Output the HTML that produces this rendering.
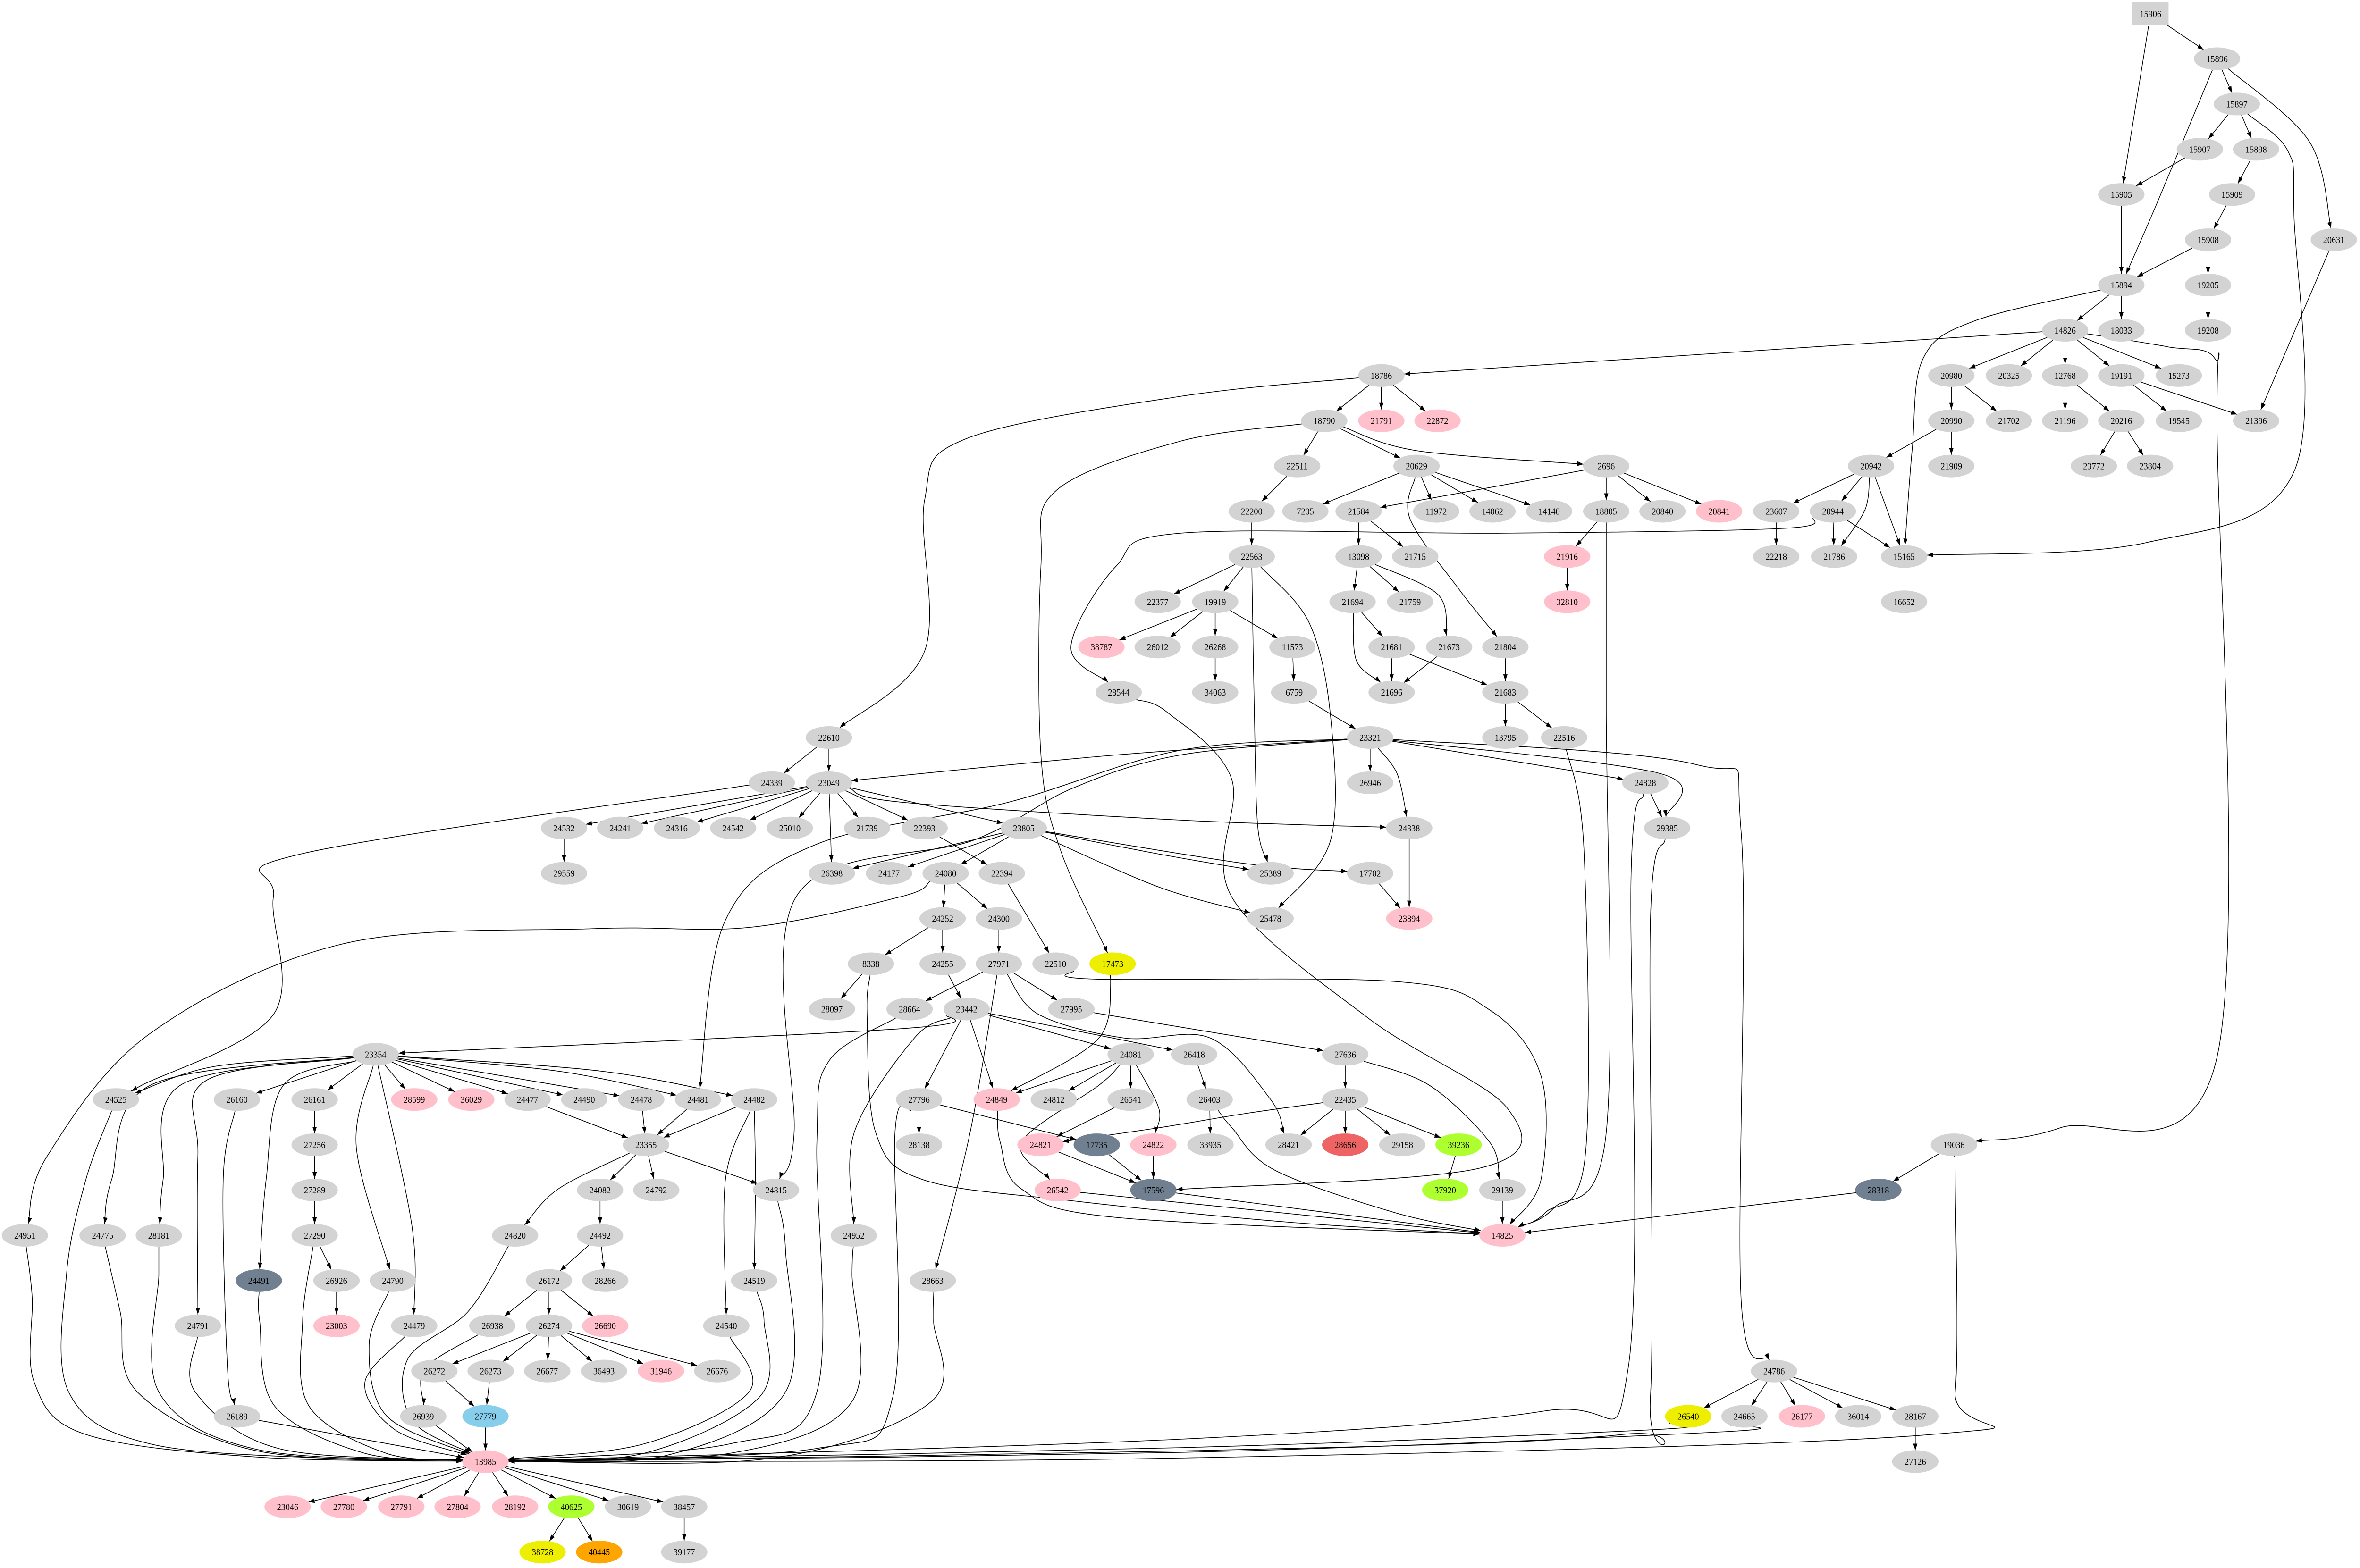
<!DOCTYPE html>
<html><head><meta charset="utf-8"><style>
html,body{margin:0;padding:0;background:#fff;overflow:hidden;width:100%;height:100%;}
svg{display:block;width:100vw;height:100vh;}
ellipse,rect{fill:#d3d3d3;stroke:none;}
.p{fill:#ffc0cb}.s{fill:#708090}.g{fill:#adff2f}.y{fill:#eeee00}.o{fill:#ffa500}.b{fill:#87ceeb}.r{fill:#ee6363}
text{font-family:"Liberation Serif",serif;font-size:20px;text-anchor:middle;fill:#000;}
#E path{fill:none;stroke:#000;stroke-width:1.6;}
</style></head><body>
<svg id="S" xmlns="http://www.w3.org/2000/svg" viewBox="0 0 5498 3323" preserveAspectRatio="none">
<defs><marker id="a" markerUnits="userSpaceOnUse" markerWidth="16" markerHeight="12" refX="14" refY="5" orient="auto"><path d="M0,0 L14,5 L0,10 z" fill="#000"/></marker></defs>
<g id="E"></g>
<g id="N">
<rect id="n15906" x="4968" y="5" width="84" height="49"/><text x="5010" y="36">15906</text>
<ellipse id="n15896" cx="5165" cy="124.5" rx="54" ry="24"/><text x="5165" y="131.5">15896</text>
<ellipse id="n15897" cx="5211" cy="220.4" rx="54" ry="24"/><text x="5211" y="227.4">15897</text>
<ellipse id="n15907" cx="5125" cy="316.3" rx="54" ry="24"/><text x="5125" y="323.3">15907</text>
<ellipse id="n15898" cx="5256" cy="316.3" rx="54" ry="24"/><text x="5256" y="323.3">15898</text>
<ellipse id="n15905" cx="4942" cy="412.2" rx="54" ry="24"/><text x="4942" y="419.2">15905</text>
<ellipse id="n15909" cx="5200" cy="412.2" rx="54" ry="24"/><text x="5200" y="419.2">15909</text>
<ellipse id="n15908" cx="5144" cy="508.1" rx="54" ry="24"/><text x="5144" y="515.1">15908</text>
<ellipse id="n20631" cx="5437" cy="508.1" rx="54" ry="24"/><text x="5437" y="515.1">20631</text>
<ellipse id="n15894" cx="4942" cy="604" rx="54" ry="24"/><text x="4942" y="611">15894</text>
<ellipse id="n19205" cx="5144" cy="604" rx="54" ry="24"/><text x="5144" y="611">19205</text>
<ellipse id="n14826" cx="4811" cy="699.9" rx="54" ry="24"/><text x="4811" y="706.9">14826</text>
<ellipse id="n18033" cx="4942" cy="699.9" rx="54" ry="24"/><text x="4942" y="706.9">18033</text>
<ellipse id="n19208" cx="5144" cy="699.9" rx="54" ry="24"/><text x="5144" y="706.9">19208</text>
<ellipse id="n18786" cx="3218" cy="795.8" rx="54" ry="24"/><text x="3218" y="802.8">18786</text>
<ellipse id="n20980" cx="4546" cy="795.8" rx="54" ry="24"/><text x="4546" y="802.8">20980</text>
<ellipse id="n20325" cx="4680" cy="795.8" rx="54" ry="24"/><text x="4680" y="802.8">20325</text>
<ellipse id="n12768" cx="4811" cy="795.8" rx="54" ry="24"/><text x="4811" y="802.8">12768</text>
<ellipse id="n19191" cx="4942" cy="795.8" rx="54" ry="24"/><text x="4942" y="802.8">19191</text>
<ellipse id="n15273" cx="5076" cy="795.8" rx="54" ry="24"/><text x="5076" y="802.8">15273</text>
<ellipse id="n18790" cx="3085" cy="891.7" rx="54" ry="24"/><text x="3085" y="898.7">18790</text>
<ellipse id="n21791" class="p" cx="3218" cy="891.7" rx="54" ry="24"/><text x="3218" y="898.7">21791</text>
<ellipse id="n22872" class="p" cx="3349" cy="891.7" rx="54" ry="24"/><text x="3349" y="898.7">22872</text>
<ellipse id="n20990" cx="4546" cy="891.7" rx="54" ry="24"/><text x="4546" y="898.7">20990</text>
<ellipse id="n21702" cx="4680" cy="891.7" rx="54" ry="24"/><text x="4680" y="898.7">21702</text>
<ellipse id="n21196" cx="4811" cy="891.7" rx="54" ry="24"/><text x="4811" y="898.7">21196</text>
<ellipse id="n20216" cx="4942" cy="891.7" rx="54" ry="24"/><text x="4942" y="898.7">20216</text>
<ellipse id="n19545" cx="5076" cy="891.7" rx="54" ry="24"/><text x="5076" y="898.7">19545</text>
<ellipse id="n21396" cx="5256" cy="891.7" rx="54" ry="24"/><text x="5256" y="898.7">21396</text>
<ellipse id="n22511" cx="3022" cy="987.6" rx="54" ry="24"/><text x="3022" y="994.6">22511</text>
<ellipse id="n20629" cx="3300" cy="987.6" rx="54" ry="24"/><text x="3300" y="994.6">20629</text>
<ellipse id="n2696" cx="3742" cy="987.6" rx="54" ry="24"/><text x="3742" y="994.6">2696</text>
<ellipse id="n20942" cx="4359" cy="987.6" rx="54" ry="24"/><text x="4359" y="994.6">20942</text>
<ellipse id="n21909" cx="4546" cy="987.6" rx="54" ry="24"/><text x="4546" y="994.6">21909</text>
<ellipse id="n23772" cx="4878" cy="987.6" rx="54" ry="24"/><text x="4878" y="994.6">23772</text>
<ellipse id="n23804" cx="5009" cy="987.6" rx="54" ry="24"/><text x="5009" y="994.6">23804</text>
<ellipse id="n22200" cx="2916" cy="1083.5" rx="54" ry="24"/><text x="2916" y="1090.5">22200</text>
<ellipse id="n7205" cx="3041" cy="1083.5" rx="54" ry="24"/><text x="3041" y="1090.5">7205</text>
<ellipse id="n21584" cx="3165" cy="1083.5" rx="54" ry="24"/><text x="3165" y="1090.5">21584</text>
<ellipse id="n11972" cx="3346" cy="1083.5" rx="54" ry="24"/><text x="3346" y="1090.5">11972</text>
<ellipse id="n14062" cx="3477" cy="1083.5" rx="54" ry="24"/><text x="3477" y="1090.5">14062</text>
<ellipse id="n14140" cx="3609" cy="1083.5" rx="54" ry="24"/><text x="3609" y="1090.5">14140</text>
<ellipse id="n18805" cx="3742" cy="1083.5" rx="54" ry="24"/><text x="3742" y="1090.5">18805</text>
<ellipse id="n20840" cx="3873" cy="1083.5" rx="54" ry="24"/><text x="3873" y="1090.5">20840</text>
<ellipse id="n20841" class="p" cx="4005" cy="1083.5" rx="54" ry="24"/><text x="4005" y="1090.5">20841</text>
<ellipse id="n23607" cx="4138" cy="1083.5" rx="54" ry="24"/><text x="4138" y="1090.5">23607</text>
<ellipse id="n20944" cx="4270" cy="1083.5" rx="54" ry="24"/><text x="4270" y="1090.5">20944</text>
<ellipse id="n22563" cx="2916" cy="1179.4" rx="54" ry="24"/><text x="2916" y="1186.4">22563</text>
<ellipse id="n13098" cx="3165" cy="1179.4" rx="54" ry="24"/><text x="3165" y="1186.4">13098</text>
<ellipse id="n21715" cx="3297" cy="1179.4" rx="54" ry="24"/><text x="3297" y="1186.4">21715</text>
<ellipse id="n21916" class="p" cx="3651" cy="1179.4" rx="54" ry="24"/><text x="3651" y="1186.4">21916</text>
<ellipse id="n22218" cx="4138" cy="1179.4" rx="54" ry="24"/><text x="4138" y="1186.4">22218</text>
<ellipse id="n21786" cx="4273" cy="1179.4" rx="54" ry="24"/><text x="4273" y="1186.4">21786</text>
<ellipse id="n15165" cx="4436" cy="1179.4" rx="54" ry="24"/><text x="4436" y="1186.4">15165</text>
<ellipse id="n22377" cx="2697" cy="1275.3" rx="54" ry="24"/><text x="2697" y="1282.3">22377</text>
<ellipse id="n19919" cx="2831" cy="1275.3" rx="54" ry="24"/><text x="2831" y="1282.3">19919</text>
<ellipse id="n21694" cx="3151" cy="1275.3" rx="54" ry="24"/><text x="3151" y="1282.3">21694</text>
<ellipse id="n21759" cx="3285" cy="1275.3" rx="54" ry="24"/><text x="3285" y="1282.3">21759</text>
<ellipse id="n32810" class="p" cx="3651" cy="1275.3" rx="54" ry="24"/><text x="3651" y="1282.3">32810</text>
<ellipse id="n16652" cx="4436" cy="1275.3" rx="54" ry="24"/><text x="4436" y="1282.3">16652</text>
<ellipse id="n38787" class="p" cx="2566" cy="1371.2" rx="54" ry="24"/><text x="2566" y="1378.2">38787</text>
<ellipse id="n26012" cx="2697" cy="1371.2" rx="54" ry="24"/><text x="2697" y="1378.2">26012</text>
<ellipse id="n26268" cx="2831" cy="1371.2" rx="54" ry="24"/><text x="2831" y="1378.2">26268</text>
<ellipse id="n11573" cx="3011" cy="1371.2" rx="54" ry="24"/><text x="3011" y="1378.2">11573</text>
<ellipse id="n21681" cx="3242" cy="1371.2" rx="54" ry="24"/><text x="3242" y="1378.2">21681</text>
<ellipse id="n21673" cx="3376" cy="1371.2" rx="54" ry="24"/><text x="3376" y="1378.2">21673</text>
<ellipse id="n21804" cx="3507" cy="1371.2" rx="54" ry="24"/><text x="3507" y="1378.2">21804</text>
<ellipse id="n28544" cx="2606" cy="1467.1" rx="54" ry="24"/><text x="2606" y="1474.1">28544</text>
<ellipse id="n34063" cx="2831" cy="1467.1" rx="54" ry="24"/><text x="2831" y="1474.1">34063</text>
<ellipse id="n6759" cx="3015" cy="1467.1" rx="54" ry="24"/><text x="3015" y="1474.1">6759</text>
<ellipse id="n21696" cx="3242" cy="1467.1" rx="54" ry="24"/><text x="3242" y="1474.1">21696</text>
<ellipse id="n21683" cx="3507" cy="1467.1" rx="54" ry="24"/><text x="3507" y="1474.1">21683</text>
<ellipse id="n22610" cx="1931" cy="1563" rx="54" ry="24"/><text x="1931" y="1570">22610</text>
<ellipse id="n23321" cx="3192" cy="1563" rx="54" ry="24"/><text x="3192" y="1570">23321</text>
<ellipse id="n13795" cx="3507" cy="1563" rx="54" ry="24"/><text x="3507" y="1570">13795</text>
<ellipse id="n22516" cx="3644" cy="1563" rx="54" ry="24"/><text x="3644" y="1570">22516</text>
<ellipse id="n24339" cx="1798" cy="1658.9" rx="54" ry="24"/><text x="1798" y="1665.9">24339</text>
<ellipse id="n23049" cx="1931" cy="1658.9" rx="54" ry="24"/><text x="1931" y="1665.9">23049</text>
<ellipse id="n26946" cx="3192" cy="1658.9" rx="54" ry="24"/><text x="3192" y="1665.9">26946</text>
<ellipse id="n24828" cx="3833" cy="1658.9" rx="54" ry="24"/><text x="3833" y="1665.9">24828</text>
<ellipse id="n24532" cx="1314" cy="1754.8" rx="54" ry="24"/><text x="1314" y="1761.8">24532</text>
<ellipse id="n24241" cx="1445" cy="1754.8" rx="54" ry="24"/><text x="1445" y="1761.8">24241</text>
<ellipse id="n24316" cx="1577" cy="1754.8" rx="54" ry="24"/><text x="1577" y="1761.8">24316</text>
<ellipse id="n24542" cx="1708" cy="1754.8" rx="54" ry="24"/><text x="1708" y="1761.8">24542</text>
<ellipse id="n25010" cx="1840" cy="1754.8" rx="54" ry="24"/><text x="1840" y="1761.8">25010</text>
<ellipse id="n21739" cx="2020" cy="1754.8" rx="54" ry="24"/><text x="2020" y="1761.8">21739</text>
<ellipse id="n22393" cx="2154" cy="1754.8" rx="54" ry="24"/><text x="2154" y="1761.8">22393</text>
<ellipse id="n23805" cx="2385" cy="1754.8" rx="54" ry="24"/><text x="2385" y="1761.8">23805</text>
<ellipse id="n24338" cx="3283" cy="1754.8" rx="54" ry="24"/><text x="3283" y="1761.8">24338</text>
<ellipse id="n29385" cx="3884" cy="1754.8" rx="54" ry="24"/><text x="3884" y="1761.8">29385</text>
<ellipse id="n29559" cx="1314" cy="1850.7" rx="54" ry="24"/><text x="1314" y="1857.7">29559</text>
<ellipse id="n26398" cx="1938" cy="1850.7" rx="54" ry="24"/><text x="1938" y="1857.7">26398</text>
<ellipse id="n24177" cx="2071" cy="1850.7" rx="54" ry="24"/><text x="2071" y="1857.7">24177</text>
<ellipse id="n24080" cx="2203" cy="1850.7" rx="54" ry="24"/><text x="2203" y="1857.7">24080</text>
<ellipse id="n22394" cx="2334" cy="1850.7" rx="54" ry="24"/><text x="2334" y="1857.7">22394</text>
<ellipse id="n25389" cx="2960" cy="1850.7" rx="54" ry="24"/><text x="2960" y="1857.7">25389</text>
<ellipse id="n17702" cx="3192" cy="1850.7" rx="54" ry="24"/><text x="3192" y="1857.7">17702</text>
<ellipse id="n24252" cx="2196" cy="1946.6" rx="54" ry="24"/><text x="2196" y="1953.6">24252</text>
<ellipse id="n24300" cx="2327" cy="1946.6" rx="54" ry="24"/><text x="2327" y="1953.6">24300</text>
<ellipse id="n25478" cx="2960" cy="1946.6" rx="54" ry="24"/><text x="2960" y="1953.6">25478</text>
<ellipse id="n23894" class="p" cx="3283" cy="1946.6" rx="54" ry="24"/><text x="3283" y="1953.6">23894</text>
<ellipse id="n8338" cx="2029" cy="2042.5" rx="54" ry="24"/><text x="2029" y="2049.5">8338</text>
<ellipse id="n24255" cx="2196" cy="2042.5" rx="54" ry="24"/><text x="2196" y="2049.5">24255</text>
<ellipse id="n27971" cx="2327" cy="2042.5" rx="54" ry="24"/><text x="2327" y="2049.5">27971</text>
<ellipse id="n22510" cx="2459" cy="2042.5" rx="54" ry="24"/><text x="2459" y="2049.5">22510</text>
<ellipse id="n17473" class="y" cx="2592" cy="2042.5" rx="54" ry="24"/><text x="2592" y="2049.5">17473</text>
<ellipse id="n28097" cx="1938" cy="2138.4" rx="54" ry="24"/><text x="1938" y="2145.4">28097</text>
<ellipse id="n28664" cx="2119" cy="2138.4" rx="54" ry="24"/><text x="2119" y="2145.4">28664</text>
<ellipse id="n23442" cx="2252" cy="2138.4" rx="54" ry="24"/><text x="2252" y="2145.4">23442</text>
<ellipse id="n27995" cx="2496" cy="2138.4" rx="54" ry="24"/><text x="2496" y="2145.4">27995</text>
<ellipse id="n23354" cx="875" cy="2234.3" rx="54" ry="24"/><text x="875" y="2241.3">23354</text>
<ellipse id="n24081" cx="2634" cy="2234.3" rx="54" ry="24"/><text x="2634" y="2241.3">24081</text>
<ellipse id="n26418" cx="2782" cy="2234.3" rx="54" ry="24"/><text x="2782" y="2241.3">26418</text>
<ellipse id="n27636" cx="3134" cy="2234.3" rx="54" ry="24"/><text x="3134" y="2241.3">27636</text>
<ellipse id="n24525" cx="270" cy="2330.2" rx="54" ry="24"/><text x="270" y="2337.2">24525</text>
<ellipse id="n26160" cx="552" cy="2330.2" rx="54" ry="24"/><text x="552" y="2337.2">26160</text>
<ellipse id="n26161" cx="733" cy="2330.2" rx="54" ry="24"/><text x="733" y="2337.2">26161</text>
<ellipse id="n28599" class="p" cx="965" cy="2330.2" rx="54" ry="24"/><text x="965" y="2337.2">28599</text>
<ellipse id="n36029" class="p" cx="1098" cy="2330.2" rx="54" ry="24"/><text x="1098" y="2337.2">36029</text>
<ellipse id="n24477" cx="1229" cy="2330.2" rx="54" ry="24"/><text x="1229" y="2337.2">24477</text>
<ellipse id="n24490" cx="1361" cy="2330.2" rx="54" ry="24"/><text x="1361" y="2337.2">24490</text>
<ellipse id="n24478" cx="1494" cy="2330.2" rx="54" ry="24"/><text x="1494" y="2337.2">24478</text>
<ellipse id="n24481" cx="1626" cy="2330.2" rx="54" ry="24"/><text x="1626" y="2337.2">24481</text>
<ellipse id="n24482" cx="1757" cy="2330.2" rx="54" ry="24"/><text x="1757" y="2337.2">24482</text>
<ellipse id="n27796" cx="2141" cy="2330.2" rx="54" ry="24"/><text x="2141" y="2337.2">27796</text>
<ellipse id="n24849" class="p" cx="2322" cy="2330.2" rx="54" ry="24"/><text x="2322" y="2337.2">24849</text>
<ellipse id="n24812" cx="2455" cy="2330.2" rx="54" ry="24"/><text x="2455" y="2337.2">24812</text>
<ellipse id="n26541" cx="2634" cy="2330.2" rx="54" ry="24"/><text x="2634" y="2337.2">26541</text>
<ellipse id="n26403" cx="2818" cy="2330.2" rx="54" ry="24"/><text x="2818" y="2337.2">26403</text>
<ellipse id="n22435" cx="3134" cy="2330.2" rx="54" ry="24"/><text x="3134" y="2337.2">22435</text>
<ellipse id="n27256" cx="733" cy="2426.1" rx="54" ry="24"/><text x="733" y="2433.1">27256</text>
<ellipse id="n23355" cx="1505" cy="2426.1" rx="54" ry="24"/><text x="1505" y="2433.1">23355</text>
<ellipse id="n28138" cx="2141" cy="2426.1" rx="54" ry="24"/><text x="2141" y="2433.1">28138</text>
<ellipse id="n24821" class="p" cx="2424" cy="2426.1" rx="54" ry="24"/><text x="2424" y="2433.1">24821</text>
<ellipse id="n17735" class="s" cx="2555" cy="2426.1" rx="54" ry="24"/><text x="2555" y="2433.1">17735</text>
<ellipse id="n24822" class="p" cx="2687" cy="2426.1" rx="54" ry="24"/><text x="2687" y="2433.1">24822</text>
<ellipse id="n33935" cx="2820" cy="2426.1" rx="54" ry="24"/><text x="2820" y="2433.1">33935</text>
<ellipse id="n28421" cx="3002" cy="2426.1" rx="54" ry="24"/><text x="3002" y="2433.1">28421</text>
<ellipse id="n28656" class="r" cx="3134" cy="2426.1" rx="54" ry="24"/><text x="3134" y="2433.1">28656</text>
<ellipse id="n29158" cx="3267" cy="2426.1" rx="54" ry="24"/><text x="3267" y="2433.1">29158</text>
<ellipse id="n39236" class="g" cx="3398" cy="2426.1" rx="54" ry="24"/><text x="3398" y="2433.1">39236</text>
<ellipse id="n19036" cx="4552" cy="2426.1" rx="54" ry="24"/><text x="4552" y="2433.1">19036</text>
<ellipse id="n27289" cx="733" cy="2522" rx="54" ry="24"/><text x="733" y="2529">27289</text>
<ellipse id="n24082" cx="1398" cy="2522" rx="54" ry="24"/><text x="1398" y="2529">24082</text>
<ellipse id="n24792" cx="1529" cy="2522" rx="54" ry="24"/><text x="1529" y="2529">24792</text>
<ellipse id="n24815" cx="1808" cy="2522" rx="54" ry="24"/><text x="1808" y="2529">24815</text>
<ellipse id="n26542" class="p" cx="2464" cy="2522" rx="54" ry="24"/><text x="2464" y="2529">26542</text>
<ellipse id="n17596" class="s" cx="2687" cy="2522" rx="54" ry="24"/><text x="2687" y="2529">17596</text>
<ellipse id="n37920" class="g" cx="3367" cy="2522" rx="54" ry="24"/><text x="3367" y="2529">37920</text>
<ellipse id="n29139" cx="3500" cy="2522" rx="54" ry="24"/><text x="3500" y="2529">29139</text>
<ellipse id="n28318" class="s" cx="4376" cy="2522" rx="54" ry="24"/><text x="4376" y="2529">28318</text>
<ellipse id="n24951" cx="58" cy="2617.9" rx="54" ry="24"/><text x="58" y="2624.9">24951</text>
<ellipse id="n24775" cx="239" cy="2617.9" rx="54" ry="24"/><text x="239" y="2624.9">24775</text>
<ellipse id="n28181" cx="370" cy="2617.9" rx="54" ry="24"/><text x="370" y="2624.9">28181</text>
<ellipse id="n27290" cx="733" cy="2617.9" rx="54" ry="24"/><text x="733" y="2624.9">27290</text>
<ellipse id="n24820" cx="1200" cy="2617.9" rx="54" ry="24"/><text x="1200" y="2624.9">24820</text>
<ellipse id="n24492" cx="1398" cy="2617.9" rx="54" ry="24"/><text x="1398" y="2624.9">24492</text>
<ellipse id="n24952" cx="1989" cy="2617.9" rx="54" ry="24"/><text x="1989" y="2624.9">24952</text>
<ellipse id="n14825" class="p" cx="3500" cy="2617.9" rx="54" ry="24"/><text x="3500" y="2624.9">14825</text>
<ellipse id="n24491" class="s" cx="603" cy="2713.8" rx="54" ry="24"/><text x="603" y="2720.8">24491</text>
<ellipse id="n26926" cx="784" cy="2713.8" rx="54" ry="24"/><text x="784" y="2720.8">26926</text>
<ellipse id="n24790" cx="915" cy="2713.8" rx="54" ry="24"/><text x="915" y="2720.8">24790</text>
<ellipse id="n26172" cx="1279" cy="2713.8" rx="54" ry="24"/><text x="1279" y="2720.8">26172</text>
<ellipse id="n28266" cx="1410" cy="2713.8" rx="54" ry="24"/><text x="1410" y="2720.8">28266</text>
<ellipse id="n24519" cx="1757" cy="2713.8" rx="54" ry="24"/><text x="1757" y="2720.8">24519</text>
<ellipse id="n28663" cx="2173" cy="2713.8" rx="54" ry="24"/><text x="2173" y="2720.8">28663</text>
<ellipse id="n24791" cx="461" cy="2809.7" rx="54" ry="24"/><text x="461" y="2816.7">24791</text>
<ellipse id="n23003" class="p" cx="784" cy="2809.7" rx="54" ry="24"/><text x="784" y="2816.7">23003</text>
<ellipse id="n24479" cx="965" cy="2809.7" rx="54" ry="24"/><text x="965" y="2816.7">24479</text>
<ellipse id="n26938" cx="1147" cy="2809.7" rx="54" ry="24"/><text x="1147" y="2816.7">26938</text>
<ellipse id="n26274" cx="1279" cy="2809.7" rx="54" ry="24"/><text x="1279" y="2816.7">26274</text>
<ellipse id="n26690" class="p" cx="1410" cy="2809.7" rx="54" ry="24"/><text x="1410" y="2816.7">26690</text>
<ellipse id="n24540" cx="1692" cy="2809.7" rx="54" ry="24"/><text x="1692" y="2816.7">24540</text>
<ellipse id="n26272" cx="1012" cy="2905.6" rx="54" ry="24"/><text x="1012" y="2912.6">26272</text>
<ellipse id="n26273" cx="1143" cy="2905.6" rx="54" ry="24"/><text x="1143" y="2912.6">26273</text>
<ellipse id="n26677" cx="1275" cy="2905.6" rx="54" ry="24"/><text x="1275" y="2912.6">26677</text>
<ellipse id="n36493" cx="1407" cy="2905.6" rx="54" ry="24"/><text x="1407" y="2912.6">36493</text>
<ellipse id="n31946" class="p" cx="1540" cy="2905.6" rx="54" ry="24"/><text x="1540" y="2912.6">31946</text>
<ellipse id="n26676" cx="1671" cy="2905.6" rx="54" ry="24"/><text x="1671" y="2912.6">26676</text>
<ellipse id="n24786" cx="4133" cy="2905.6" rx="54" ry="24"/><text x="4133" y="2912.6">24786</text>
<ellipse id="n26189" cx="552" cy="3001.5" rx="54" ry="24"/><text x="552" y="3008.5">26189</text>
<ellipse id="n26939" cx="986" cy="3001.5" rx="54" ry="24"/><text x="986" y="3008.5">26939</text>
<ellipse id="n27779" class="b" cx="1131" cy="3001.5" rx="54" ry="24"/><text x="1131" y="3008.5">27779</text>
<ellipse id="n26540" class="y" cx="3933" cy="3001.5" rx="54" ry="24"/><text x="3933" y="3008.5">26540</text>
<ellipse id="n24665" cx="4064" cy="3001.5" rx="54" ry="24"/><text x="4064" y="3008.5">24665</text>
<ellipse id="n26177" class="p" cx="4198" cy="3001.5" rx="54" ry="24"/><text x="4198" y="3008.5">26177</text>
<ellipse id="n36014" cx="4329" cy="3001.5" rx="54" ry="24"/><text x="4329" y="3008.5">36014</text>
<ellipse id="n28167" cx="4462" cy="3001.5" rx="54" ry="24"/><text x="4462" y="3008.5">28167</text>
<ellipse id="n13985" class="p" cx="1131" cy="3097.4" rx="54" ry="24"/><text x="1131" y="3104.4">13985</text>
<ellipse id="n27126" cx="4462" cy="3097.4" rx="54" ry="24"/><text x="4462" y="3104.4">27126</text>
<ellipse id="n23046" class="p" cx="670" cy="3193.3" rx="54" ry="24"/><text x="670" y="3200.3">23046</text>
<ellipse id="n27780" class="p" cx="801" cy="3193.3" rx="54" ry="24"/><text x="801" y="3200.3">27780</text>
<ellipse id="n27791" class="p" cx="935" cy="3193.3" rx="54" ry="24"/><text x="935" y="3200.3">27791</text>
<ellipse id="n27804" class="p" cx="1066" cy="3193.3" rx="54" ry="24"/><text x="1066" y="3200.3">27804</text>
<ellipse id="n28192" class="p" cx="1200" cy="3193.3" rx="54" ry="24"/><text x="1200" y="3200.3">28192</text>
<ellipse id="n40625" class="g" cx="1331" cy="3193.3" rx="54" ry="24"/><text x="1331" y="3200.3">40625</text>
<ellipse id="n30619" cx="1463" cy="3193.3" rx="54" ry="24"/><text x="1463" y="3200.3">30619</text>
<ellipse id="n38457" cx="1594" cy="3193.3" rx="54" ry="24"/><text x="1594" y="3200.3">38457</text>
<ellipse id="n38728" class="y" cx="1264" cy="3289.2" rx="54" ry="24"/><text x="1264" y="3296.2">38728</text>
<ellipse id="n40445" class="o" cx="1396" cy="3289.2" rx="54" ry="24"/><text x="1396" y="3296.2">40445</text>
<ellipse id="n39177" cx="1594" cy="3289.2" rx="54" ry="24"/><text x="1594" y="3296.2">39177</text>
</g>
</svg>
<script>
(function(){
var E=[
["15906","15896"],["15906","15905"],["15896","15897"],["15896","15894",[[5030,420]]],["15896","20631",[[5380,300]]],
["15897","15907"],["15897","15898"],["15897","15165",[[5330,320],[5344,450],[5344,1000],[5000,1150]]],
["15907","15905"],["15898","15909"],["15909","15908"],["15905","15894"],["15908","15894"],["15908","19205"],["19205","19208"],
["20631","21396"],["15894","14826"],["15894","18033"],["15894","15165",[[4600,680],[4480,760],[4455,950]]],
["14826","18786"],["14826","20980"],["14826","20325"],["14826","12768"],["14826","19191"],["14826","15273"],
["14826","19036",[[5050,735],[5160,760],[5165,900],[5165,2240],[4800,2390]]],
["20980","20990"],["20980","21702"],["12768","21196"],["12768","20216"],["19191","19545"],["19191","21396"],
["20216","23772"],["20216","23804"],["20990","20942"],["20990","21909"],
["20942","23607"],["20942","20944"],["20942","21786",[[4345,1080]]],["20942","15165"],["20944","21786"],["20944","15165"],
["20944","28544",[[4150,1120],[3500,1130],[2750,1130],[2600,1200],[2495,1370]]],
["23607","22218"],
["18786","18790"],["18786","21791"],["18786","22872"],
["18786","22610",[[2750,840],[2250,930],[2154,1060],[2154,1380]]],
["18790","22511"],["18790","20629"],["18790","2696",[[3300,955]]],
["18790","17473",[[2750,935],[2460,1040],[2425,1200],[2425,1600],[2470,1800]]],
["2696","21584",[[3400,1045]]],["2696","18805"],["2696","20840"],["2696","20841"],
["20629","7205"],["20629","11972"],["20629","14062"],["20629","14140"],
["20629","21804",[[3285,1100],[3400,1250]]],
["22511","22200"],["22200","22563"],["21584","13098"],["21584","21715"],
["18805","21916"],["18805","14825",[[3742,1500],[3742,2400],[3620,2560]]],["21916","32810"],
["22563","22377"],["22563","19919"],["22563","25389",[[2922,1500],[2930,1750]]],
["22563","25478",[[3050,1320],[3100,1520],[3100,1780]]],
["19919","38787"],["19919","26012"],["19919","26268"],["19919","11573"],["26268","34063"],["11573","6759"],["6759","23321"],
["13098","21694"],["13098","21759"],["13098","21673",[[3350,1260]]],["21694","21681"],["21694","21696",[[3160,1400]]],
["21681","21696"],["21681","21683"],["21673","21696"],["21804","21683"],["21683","13795"],["21683","22516"],
["22516","14825",[[3690,1800],[3693,2450],[3600,2570]]],
["28544","17596",[[2720,1510],[2869,1650],[2869,1900],[3188,2158],[3512,2349],[3450,2475],[2760,2520]]],
["23321","23049",[[2600,1600]]],["23321","26946"],["23321","24338",[[3255,1640]]],["23321","24828"],
["23321","29385",[[3870,1640]]],["23321","24786",[[3950,1620],[4056,1760],[4056,2750]]],
["23321","24481",[[2750,1590],[2350,1700],[1900,1790],[1690,1950]]],
["23321","24815",[[2750,1600],[2500,1670],[2270,1780],[1855,1900],[1850,2400]]],
["24828","29385"],["24828","13985",[[3800,1850],[3793,2900],[3600,2990],[2750,3050]]],
["29385","13985",[[3845,1950],[3845,2960],[3780,3040],[2750,3075]]],
["24338","23894"],["17702","23894"],
["22610","24339"],["22610","23049"],
["23049","24532"],["23049","24241"],["23049","24316"],["23049","24542"],["23049","25010"],["23049","21739"],["23049","22393"],["23049","23805"],["23049","26398"],
["23049","24338",[[2100,1700],[2750,1738]]],
["24339","24525",[[1700,1670],[700,1810],[637,1900],[637,2150],[330,2300]]],
["24532","29559"],["22393","22394"],
["23805","24177"],["23805","24080"],["23805","26398"],["23805","25389",[[2700,1810]]],["23805","17702",[[2900,1830]]],["23805","25478",[[2700,1880]]],
["24080","24252"],["24080","24300"],["24080","24951",[[2100,1900],[1750,1965],[1385,1968],[800,2000],[350,2190],[110,2450]]],
["22394","22510"],["24252","8338"],["24252","24255"],["24300","27971"],
["8338","28097"],["8338","14825",[[2020,2150],[2040,2400],[2150,2500],[2500,2545],[3000,2590]]],
["24255","23442"],["27971","28664"],["27971","27995"],["27971","28663",[[2260,2400]]],
["27971","28421",[[2420,2150],[2620,2200],[2820,2200],[2960,2330]]],
["22510","14825",[[2550,2075],[3250,2080],[3470,2140],[3590,2280],[3590,2500]]],
["17473","24849",[[2560,2200]]],["27995","27636"],
["28664","13985",[[1930,2250],[1903,2420],[1903,2950],[1700,3060]]],
["23442","23354",[[2100,2180]]],["23442","24952",[[2130,2200],[1990,2400]]],["23442","26418"],["23442","24081"],["23442","27796"],["23442","24849"],
["24081","24849"],["24081","24812"],["24081","26541"],["24081","24822",[[2700,2350]]],["24081","26542",[[2560,2300],[2380,2420]]],
["26418","26403"],["26403","33935"],["26403","14825",[[2870,2390],[2970,2480],[3250,2570]]],
["27636","22435"],["27636","29139",[[3330,2300],[3470,2420]]],
["22435","28421"],["22435","28656"],["22435","29158"],["22435","39236"],["22435","24821",[[2900,2360],[2700,2390]]],
["39236","37920"],["29139","14825"],
["19036","28318"],["19036","13985",[[4555,2500],[4555,2950],[4500,3040],[2750,3090]]],["28318","14825"],
["24786","26540"],["24786","24665"],["24786","26177"],["24786","36014"],["24786","28167"],["28167","27126"],
["26540","13985",[[3850,3030],[2750,3068]]],["24665","13985",[[4000,3035],[2750,3078]]],
["27796","28138"],["27796","17735"],["27796","13985",[[2085,2400],[2080,2960],[1900,3070]]],
["26541","24821"],["24821","17596"],["17735","17596"],["24822","17596"],
["26542","14825"],["17596","14825"],["24849","14825",[[2330,2420],[2380,2520],[2600,2580]]],
["24525","13985",[[200,2500],[155,2700],[160,2950],[350,3060],[800,3092]]],
["24951","13985",[[75,2750],[80,2930],[200,3040],[600,3088]]],
["24775","13985",[[280,2780],[320,2950],[600,3075]]],
["28181","13985",[[370,2700],[370,2950],[600,3072]]],
["24791","13985",[[455,2950],[650,3070]]],["26189","13985"],
["24491","13985",[[605,2800],[640,2980],[850,3080]]],
["27290","13985",[[705,2800],[720,2980],[900,3080]]],["27290","26926"],
["24790","13985",[[860,2850],[900,3000]]],["24479","13985",[[850,2930],[920,3030]]],
["24820","13985",[[1090,2780],[950,2880],[960,3010]]],
["24540","13985",[[1745,2950],[1500,3060]]],["24519","13985",[[1780,2800],[1770,2960],[1500,3080]]],
["24815","13985",[[1830,2650],[1830,2950],[1550,3085]]],["24952","13985",[[1985,2700],[1985,2970],[1700,3080]]],
["28663","13985",[[2175,2800],[2170,2970],[1800,3090]]],["26939","13985"],["27779","13985"],
["23354","24525",[[500,2260]]],["23354","26160"],["23354","26161"],["23354","28599"],["23354","36029"],["23354","24477"],["23354","24490"],["23354","24478"],["23354","24481",[[1300,2270]]],["23354","24482",[[1400,2270]]],
["23354","24791",[[480,2290],[461,2450]]],["23354","24775",[[350,2300],[260,2500]]],["23354","28181",[[420,2300],[380,2500]]],
["23354","24491",[[660,2300],[620,2500]]],["23354","24790",[[830,2430]]],["23354","24479",[[960,2600]]],
["24477","23355"],["24478","23355"],["24481","23355"],["24482","23355"],
["24482","24519",[[1760,2500]]],["24482","24540",[[1690,2500]]],
["23355","24082"],["23355","24792"],["23355","24815"],["23355","24820",[[1300,2520]]],
["24082","24492"],["24492","26172"],["24492","28266"],
["26172","26938"],["26172","26274"],["26172","26690"],
["26274","26272"],["26274","26273"],["26274","26677"],["26274","36493"],["26274","31946"],["26274","26676"],
["26272","27779"],["26273","27779"],["26938","26939",[[990,2900]]],
["26160","26189",[[520,2500],[530,2900]]],["26161","27256"],["27256","27289"],["27289","27290"],["26926","23003"],
["13985","23046"],["13985","27780"],["13985","27791"],["13985","27804"],["13985","28192"],["13985","40625"],["13985","30619"],["13985","38457"],
["40625","38728"],["40625","40445"],["38457","39177"]
];
function nd(id){var e=document.getElementById("n"+id);
 if(e.tagName=="rect")return{x:+e.getAttribute("x")+42,y:+e.getAttribute("y")+24.5,rx:44,ry:26};
 return{x:+e.getAttribute("cx"),y:+e.getAttribute("cy"),rx:54,ry:24};}
function clip(n,p){var dx=p[0]-n.x,dy=p[1]-n.y;var t=1/Math.sqrt((dx/n.rx)*(dx/n.rx)+(dy/n.ry)*(dy/n.ry));return[n.x+dx*t,n.y+dy*t];}
var g=document.getElementById("E"),ns="http://www.w3.org/2000/svg";
E.forEach(function(e){var a=nd(e[0]),b=nd(e[1]),w=e[2]||[];
 var p=[[a.x,a.y]].concat(w,[[b.x,b.y]]);
 p[0]=clip(a,p[1]);p[p.length-1]=clip(b,p[p.length-2]);
 var d="M"+p[0][0].toFixed(1)+","+p[0][1].toFixed(1);
 if(p.length==2){d+=" L"+p[1][0].toFixed(1)+","+p[1][1].toFixed(1);}
 else{for(var i=0;i<p.length-1;i++){var p0=p[Math.max(i-1,0)],p1=p[i],p2=p[i+1],p3=p[Math.min(i+2,p.length-1)];
  var c1=[p1[0]+(p2[0]-p0[0])/6,p1[1]+(p2[1]-p0[1])/6],c2=[p2[0]-(p3[0]-p1[0])/6,p2[1]-(p3[1]-p1[1])/6];
  d+=" C"+c1[0].toFixed(1)+","+c1[1].toFixed(1)+" "+c2[0].toFixed(1)+","+c2[1].toFixed(1)+" "+p2[0].toFixed(1)+","+p2[1].toFixed(1);}}
 var el=document.createElementNS(ns,"path");el.setAttribute("d",d);el.setAttribute("marker-end","url(#a)");g.appendChild(el);});
})();
</script>
</body></html>
